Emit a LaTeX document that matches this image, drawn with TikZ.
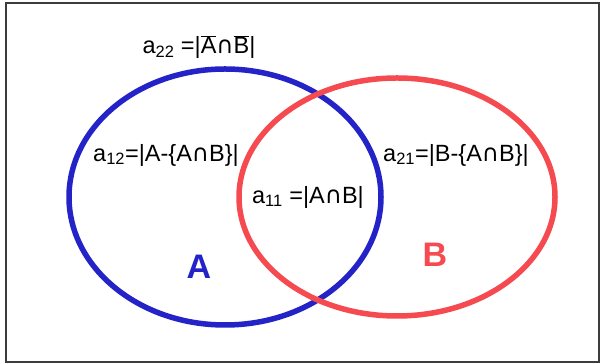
\documentclass[tikz,border=0pt]{standalone}
\usepackage{fontspec}
\setmainfont{Liberation Sans}
\newfontfamily\symfont{DejaVu Sans}
\usetikzlibrary{positioning}
\definecolor{setblue}{RGB}{35,35,200}
\definecolor{setred}{RGB}{245,75,80}
\definecolor{edge}{RGB}{60,60,60}
\tikzset{
  setA/.style={draw=setblue,line width=5.5pt},
  setB/.style={draw=setred,line width=5.5pt},
  lbl/.style={font=\fontsize{23.5}{26}\selectfont,inner sep=0pt},
  big/.style={font=\fontsize{34}{38}\selectfont\bfseries,inner sep=0pt},
}
\newcommand{\capsym}{{\symfont ∩}}
\newcommand{\ov}[1]{$\overline{\hbox{#1}}$}

\begin{document}
\begin{tikzpicture}[x=1pt,y=1pt]
\useasboundingbox (0,0) rectangle (600,363);
\draw[edge,line width=2pt] (6,1) rectangle (599,360);
% the two sets
\draw[setA] (225,166) ellipse [x radius=156,y radius=128];
\draw[setB] (397,166) ellipse [x radius=158,y radius=119];
% region counts
\node[lbl] (a22) at (199,316) {a\textsubscript{22} =|\ov{A}\capsym\ov{B}|};
\node[lbl] (a12) at (166,208) {a\textsubscript{12}=|A-\{A\capsym B\}|};
\node[lbl] (a21) at (456,208) {a\textsubscript{21}=|B-\{A\capsym B\}|};
\node[lbl] (a11) at (308,166) {a\textsubscript{11} =|A\capsym B|};
% set names
\node[big,text=setblue] (nameA) at (199,96) {A};
\node[big,text=setred] (nameB) at (435,108) {B};
\end{tikzpicture}
\end{document}
